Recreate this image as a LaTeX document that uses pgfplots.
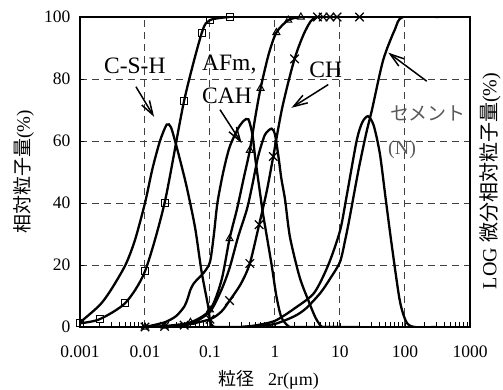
\documentclass[border=0pt]{standalone}
\usepackage{fontspec}
\setmainfont{Liberation Serif}
\newfontfamily\cjk{Noto Sans CJK JP}
\usepackage{pgfplots}
\pgfplotsset{compat=1.18}
\usetikzlibrary{arrows.meta}

\begin{document}
\begin{tikzpicture}
\begin{axis}[name=ax, width=390pt, height=310pt, scale only axis,
 xmode=log, xmin=0.001, xmax=1000, ymin=0, ymax=100,
 xtick={0.001,0.01,0.1,1,10,100,1000},
 xticklabels={0.001,0.01,0.1,1,10,100,1000},
 minor xtick={0.002,0.003,0.004,0.005,0.006,0.007,0.008,0.009,0.02,0.03,0.04,0.05,0.06,0.07,0.08,0.09,0.2,0.3,0.4,0.5,0.6,0.7,0.8,0.9,2,3,4,5,6,7,8,9,20,30,40,50,60,70,80,90,200,300,400,500,600,700,800,900},
 ytick={0,20,40,60,80,100},
 grid=major,
 major grid style={black!75, line width=1pt, dash pattern=on 7pt off 5pt},
 axis line style={line width=1.6pt},
 tick align=inside, xtick pos=bottom, ytick pos=left,
 major tick length=4pt, minor tick length=5pt,
 tick style={black, line width=0.9pt},
 tick label style={font=\fontsize{17.5}{20}\selectfont},
 /pgf/number format/assume math mode=true,
 xticklabel shift=15pt, yticklabel shift=6pt,
 every axis plot/.append style={line width=2.3pt, black},
]
% C-S-H cumulative (squares)
\addplot[smooth, tension=0.45] coordinates {(0.001,1.2) (0.002,2.5) (0.005,7.8) (0.01,18) (0.02,40) (0.04,73) (0.075,95) (0.1,99) (0.2,100)};
% C-S-H differential
\addplot[smooth, tension=0.45] coordinates {(0.001,1.5) (0.002,7) (0.003,12) (0.005,20) (0.007,28) (0.01,40) (0.013,51) (0.017,60) (0.0216,65.3) (0.025,64.5) (0.029,60) (0.0345,54) (0.044,45) (0.059,32) (0.074,18) (0.094,6.5) (0.1,2) (0.11,0.3) (0.13,0) (0.3,0)};
% AFm, CAH differential
\addplot[smooth, tension=0.45] coordinates {(0.01,0) (0.02,1.5) (0.03,3.5) (0.04,6.5) (0.045,9) (0.05,12) (0.056,14) (0.065,15.5) (0.08,17.5) (0.1,21) (0.115,30) (0.13,40) (0.16,50) (0.2,58) (0.27,64) (0.33,66.5) (0.39,67) (0.45,62) (0.5,54) (0.6,42) (0.66,36) (0.88,20.5) (1.05,10) (1.25,3.2) (1.6,0.3) (2,0) (10,0)};
% AFm cumulative (triangles)
\addplot[smooth, tension=0.45] coordinates {(0.01,0) (0.02,0.3) (0.05,1.5) (0.1,5.5) (0.15,15) (0.2,28.5) (0.26,38) (0.33,48) (0.41,57) (0.5,68) (0.6,77) (0.8,88) (1.05,95) (1.6,99) (2.5,100) (4,100)};
% CH differential
\addplot[smooth, tension=0.45] coordinates {(0.02,0) (0.05,1) (0.1,5) (0.15,12) (0.2,19) (0.27,29) (0.37,38) (0.45,46) (0.55,55) (0.7,62) (0.89,64) (1.0,62) (1.13,55) (1.25,48) (1.43,41) (1.7,29) (2.4,16) (3.4,7.6) (4.2,3) (5.1,0.3) (6,0) (20,0)};
% CH cumulative (x)
\addplot[smooth, tension=0.45] coordinates {(0.01,0) (0.02,0.2) (0.04,0.6) (0.1,2.5) (0.15,5) (0.2,8.5) (0.3,14) (0.41,20.5) (0.57,33) (0.75,44) (0.94,55) (1.3,71) (2,86.5) (3,96) (4.5,100) (20,100)};
% cement differential
\addplot[smooth, tension=0.45] coordinates {(0.3,0) (0.5,0.5) (1,2) (2,6) (4,11) (6.6,20) (10,31) (12.6,42) (18,60) (22,66) (27,68) (33,65) (41,56) (50,42) (62,27) (83,8.6) (105,1.6) (140,0) (300,0)};
% cement cumulative
\addplot[smooth, tension=0.45] coordinates {(0.3,0) (0.5,0.3) (1,1) (2,3.5) (3,6) (5,11) (7,15.5) (10,21) (12,28) (14,35) (19,50) (25,62) (31,70) (46,86) (70,96) (93,100) (330,100)};
% markers
\addplot[only marks, mark=square, mark size=3.5pt, mark options={solid, fill=white, line width=1pt}] coordinates {(0.001,1.2) (0.002,2.5) (0.005,7.8) (0.01,18) (0.02,40) (0.04,73) (0.075,95) (0.1,99) (0.2,100)};
\addplot[only marks, mark=triangle, mark size=4pt, mark options={solid, fill=white, line width=1pt}] coordinates {(0.01,0) (0.02,0.3) (0.05,1.5) (0.1,5.5) (0.2,28.5) (0.41,57) (0.6,77) (1.05,95) (1.6,99) (2.5,100)};
\addplot[only marks, mark=x, mark size=6pt, mark options={solid, line width=1.2pt}] coordinates {(0.01,0) (0.02,0.2) (0.04,0.6) (0.1,2.5) (0.2,8.5) (0.41,20.5) (0.57,33) (0.94,55) (2,86.5) (4.5,100) (5.5,100) (7,100) (9,100) (20,100)};
% annotations
\node[font=\fontsize{23.5}{26}\selectfont, inner sep=0] at (axis cs:0.00697,84.1) {C-S-H};
\draw[line width=1.5pt, -{Straight Barb[length=14pt,width=9pt]}] (axis cs:0.00726,77.5) -- (axis cs:0.0138,67.8);
\node[font=\fontsize{23.5}{26}\selectfont, inner sep=0, anchor=west] at (axis cs:0.0753,84.8) {AFm,};
\node[font=\fontsize{23.5}{26}\selectfont, inner sep=0, anchor=west] at (axis cs:0.0753,74.6) {CAH};
\draw[line width=1.5pt, -{Straight Barb[length=14pt,width=9pt]}] (axis cs:0.1426,70.1) -- (axis cs:0.307,59.3);
\node[font=\fontsize{23.5}{26}\selectfont, inner sep=0] at (axis cs:6.05,83.1) {CH};
\draw[line width=1.5pt, -{Straight Barb[length=14pt,width=9pt]}] (axis cs:6.6,78.2) -- (axis cs:1.79,70.7);
\draw[line width=1.5pt, -{Straight Barb[length=14pt,width=9pt]}] (axis cs:215.7,79.3) -- (axis cs:55.3,88.5);
\node[font=\fontsize{19}{22}\selectfont\cjk, text=black!65, inner sep=0, anchor=west] at (axis cs:58.7,68.8) {セメント};
\node[font=\fontsize{20}{22}\selectfont, text=black!65, inner sep=0, anchor=west] at (axis cs:54.7,57.2) {(N)};
\end{axis}
\node[rotate=90, font=\fontsize{19}{22}\selectfont] at ([xshift=-56pt]ax.west) {{\cjk 相対粒子量}(\%)};
\node[rotate=90, font=\fontsize{20}{22}\selectfont] at ([xshift=20pt,yshift=-9pt]ax.east) {LOG {\cjk 微分相対粒子量}(\%)};
\node[font=\fontsize{18}{20}\selectfont] at ([xshift=-6.5pt,yshift=-53pt]ax.south) {{\cjk 粒径}\hspace{14pt}2r(μm)};
\pgfresetboundingbox
\path[use as bounding box] ([shift={(-80pt,-62pt)}]ax.south west) rectangle ([shift={(33pt,17pt)}]ax.north east);
\end{tikzpicture}
\end{document}
